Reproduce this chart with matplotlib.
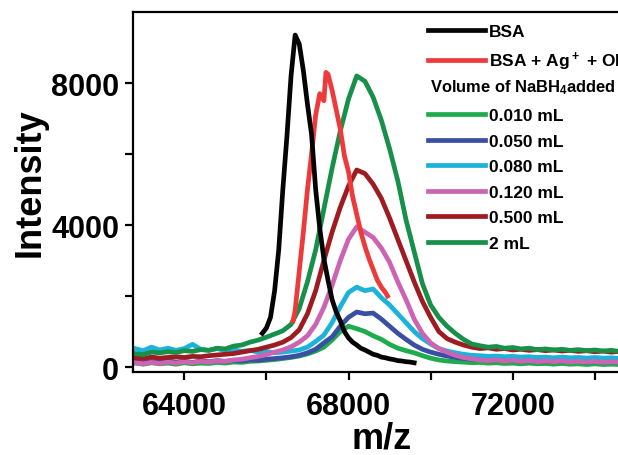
import numpy as np
import matplotlib
matplotlib.use("Agg")
import matplotlib.pyplot as plt
from matplotlib.lines import Line2D

plt.rcParams['font.family'] = ['Liberation Sans', 'DejaVu Sans']
plt.rcParams['font.weight'] = 'bold'
plt.rcParams['mathtext.fontset'] = 'custom'
plt.rcParams['mathtext.rm'] = 'Liberation Sans:bold'
plt.rcParams['mathtext.bf'] = 'Liberation Sans:bold'
plt.rcParams['mathtext.default'] = 'bf'

# common m/z grid for the full-range spectra (step 200)
mz = np.arange(62800, 74601, 200)

int_0010 = [110, 80, 120, 90, 110, 80, 120, 90, 110, 100, 130, 110, 140, 130, 160, 170,
            190, 210, 240, 270, 310, 370, 450, 560, 760, 1000, 1150, 1080, 1000, 880,
            780, 640, 530, 460, 400, 320, 250, 200, 170, 150, 140, 120, 130, 110, 120,
            100, 110, 90, 110, 90, 100, 80, 100, 80, 90, 70, 90, 70, 80, 70]
int_0050 = [150, 120, 160, 130, 170, 140, 160, 130, 170, 150, 180, 160, 190, 170, 200, 190,
            220, 240, 260, 290, 330, 400, 500, 680, 850, 1150, 1400, 1550, 1500, 1520,
            1350, 1150, 950, 780, 620, 500, 420, 360, 310, 270, 240, 220, 210, 190, 200,
            180, 190, 170, 180, 160, 170, 150, 170, 150, 160, 140, 160, 140, 150, 130]
int_0080 = [520, 460, 560, 480, 530, 470, 520, 640, 500, 470, 520, 460, 490, 440, 470, 420,
            440, 400, 420, 450, 480, 560, 720, 900, 1250, 1700, 2100, 2250, 2150, 2200,
            1950, 1750, 1500, 1250, 1000, 800, 650, 520, 450, 400, 360, 330, 320, 300, 310,
            290, 300, 280, 290, 270, 280, 260, 280, 260, 270, 250, 270, 250, 260, 240]
int_0120 = [120, 90, 130, 100, 140, 110, 150, 120, 160, 140, 170, 160, 200, 220, 260, 300,
            350, 420, 480, 570, 700, 880, 1200, 1680, 2300, 3000, 3600, 3950, 3800, 3650,
            3350, 2950, 2400, 1900, 1350, 950, 680, 520, 420, 330, 270, 230, 200, 180, 200,
            170, 190, 160, 180, 150, 170, 150, 170, 140, 160, 140, 160, 130, 150, 130]
int_0500 = [260, 240, 280, 250, 270, 290, 270, 300, 290, 320, 340, 360, 380, 420, 460, 500,
            560, 620, 700, 830, 1050, 1500, 2150, 3000, 3800, 4500, 5100, 5550, 5450, 5150,
            4750, 4200, 3600, 3000, 2400, 1850, 1400, 1000, 800, 700, 620, 560, 520, 540, 500,
            520, 480, 500, 470, 490, 460, 480, 450, 470, 440, 460, 430, 450, 420, 440]
int_2 = [380, 350, 420, 400, 430, 410, 460, 440, 490, 470, 530, 510, 590, 620, 700, 760,
         840, 930, 1020, 1200, 1650, 2400, 3300, 4450, 5600, 6650, 7550, 8200, 8050, 7600,
         6950, 6150, 5250, 4150, 3250, 2350, 1750, 1400, 1150, 950, 780, 650, 600, 560, 580,
         530, 550, 510, 530, 490, 510, 480, 500, 470, 490, 460, 480, 450, 470, 440]

# BSA and BSA + Ag+ + OH- only cover the peak region
mz_bsa = [65900, 66000, 66100, 66200, 66300, 66400, 66500, 66600, 66700, 66800, 66900,
          67000, 67100, 67200, 67300, 67400, 67500, 67600, 67700, 67800, 67900, 68000,
          68100, 68200, 68300, 68400, 68500, 68600, 68700, 68800, 68900, 69000, 69100,
          69200, 69300, 69400, 69500, 69600]
int_bsa = [950, 1100, 1400, 2150, 3300, 5000, 6500, 8200, 9350, 9100, 8350, 7400, 6550,
           5000, 3900, 3050, 2450, 1900, 1550, 1300, 1000, 820, 700, 620, 530, 480, 420,
           360, 330, 280, 260, 230, 210, 180, 170, 150, 140, 120]
mz_ag = [66650, 66700, 66800, 66900, 67000, 67100, 67200, 67300, 67400, 67450, 67500,
         67600, 67700, 67800, 67900, 68000, 68100, 68200, 68300, 68400, 68500, 68600,
         68700, 68800, 68900, 68950]
int_ag = [1300, 1600, 2700, 3800, 5000, 6000, 7100, 7700, 7500, 8300, 8250, 7800, 7250,
          6700, 5950, 5500, 4800, 4300, 3800, 3400, 3050, 2750, 2450, 2250, 2100, 2000]

labels = ['BSA', r'BSA + Ag$^+$ + OH$^-$', '0.010 mL', '0.050 mL', '0.080 mL',
          '0.120 mL', '0.500 mL', '2 mL']
colors = ['#050505', '#ee3a3a', '#1fab4e', '#3a4ea3', '#1bb3d9', '#cc64b4',
          '#9e1b21', '#17904a']

fig = plt.figure(figsize=(6.18, 4.56), dpi=100)
ax = fig.add_axes([133 / 618, 1 - 373 / 456, 1 - 133 / 618, 360 / 456])

lw = 3.4
lines = {}
series = [(mz, int_0010, 2), (mz, int_0050, 3), (mz, int_0080, 4), (mz, int_0120, 5),
          (mz, int_0500, 6), (mz, int_2, 7), (mz_ag, int_ag, 1), (mz_bsa, int_bsa, 0)]
for xs, ys, k in series:
    lines[k], = ax.plot(xs, ys, color=colors[k], lw=lw, solid_joinstyle='round')

ax.set_xlim(62750, 74565)
ax.set_ylim(-140, 10000)
ax.set_xticks([64000, 68000, 72000])
ax.set_xticks([66000, 70000, 74000], minor=True)
ax.set_yticks([0, 4000, 8000])
ax.set_yticks([2000, 6000], minor=True)
ax.tick_params(which='both', direction='out', length=6, width=1.6, labelsize=22)
ax.tick_params(axis='x', pad=8)
ax.tick_params(axis='y', pad=4)
for lab in ax.get_xticklabels() + ax.get_yticklabels():
    lab.set_fontweight('bold')
for s in ['left', 'bottom', 'top']:
    ax.spines[s].set_linewidth(1.6)
ax.spines['right'].set_visible(False)

ax.set_xlabel('m/z', fontsize=26, fontweight='bold')
ax.set_ylabel('Intensity', fontsize=26, fontweight='bold')
ax.xaxis.set_label_coords(0.513, -0.135)
ax.yaxis.set_label_coords(-0.175, 0.53)

# legend: blank slot for the "Volume of NaBH4 added" heading
blank = Line2D([], [], color='none')
handles = [lines[0], lines[1], blank] + [lines[k] for k in range(2, 8)]
leg_labels = labels[:2] + [' '] + labels[2:]
leg = fig.legend(handles, leg_labels, loc='upper left',
                 bbox_to_anchor=(428 / 618, 1 - 25 / 456), frameon=False,
                 fontsize=12.5, handlelength=3.3, handletextpad=0.2,
                 labelspacing=0.6, borderpad=0, borderaxespad=0)
for t in leg.get_texts():
    t.set_fontweight('bold')
fig.text(430 / 618, 1 - 88 / 456, r'Volume of NaBH$_4$added', fontsize=11.9,
         fontweight='bold', va='center', ha='left')

fig.savefig('out.png', dpi=100)
